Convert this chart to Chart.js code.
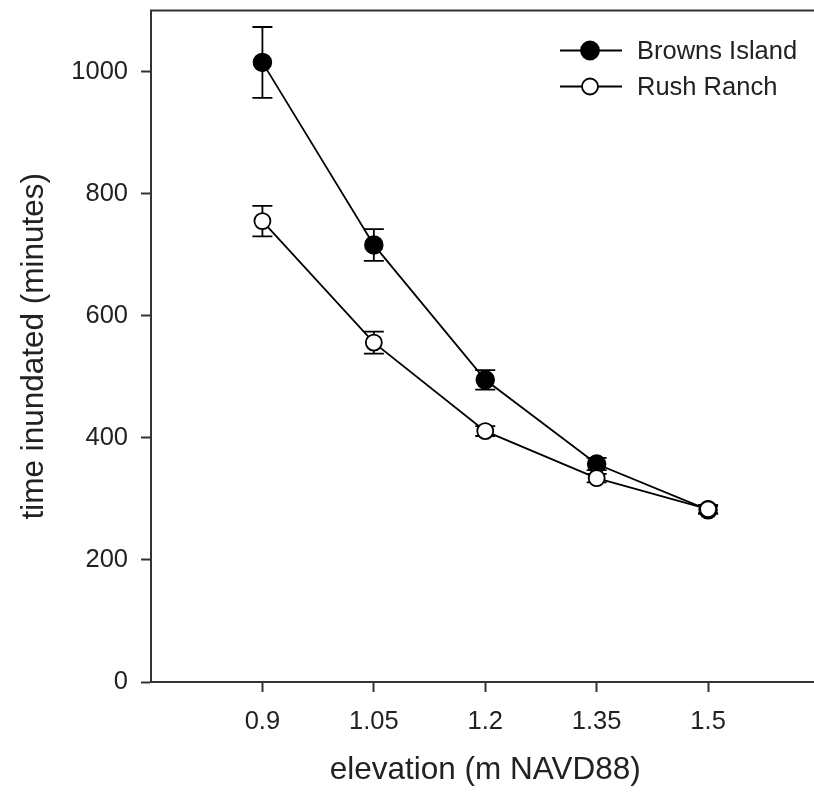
<!DOCTYPE html>
<html>
<head>
<meta charset="utf-8">
<script src="https://cdn.jsdelivr.net/npm/chart.js@4"></script>
<style>
    html, body { margin: 0; padding: 0; background: #fff; overflow: hidden; }
    #wrap { width: 830px; height: 800px; }
</style>
</head>
<body>
<div id="wrap"><canvas id="chart" width="830" height="800"></canvas></div>
<script>
// data
const elevations = [0.9, 1.05, 1.2, 1.35, 1.5];
const brownsIsland = [1015, 716, 495, 357, 282];
const brownsErr = [58, 26, 16, 10, 6];
const rushRanch = [755, 556, 411, 334, 283];
const rushErr = [25, 18, 8, 7, 7];

const xTicks = [0.9, 1.05, 1.2, 1.35, 1.5];
const xTickLabels = ["0.9", "1.05", "1.2", "1.35", "1.5"];
const yTicks = [0, 200, 400, 600, 800, 1000];

const FONT = "'Liberation Sans', Arial, sans-serif";
const INK = "#222";
const AXIS = "#333";

Chart.defaults.font.family = FONT;
Chart.defaults.color = INK;

function toPoints(xs, ys, errs) {
    return xs.map((x, i) => ({ x, y: ys[i], err: errs[i] }));
}

// error bars under the markers
const errorBars = {
    id: "errorBars",
    beforeDatasetsDraw(chart) {
        const { ctx, scales } = chart;
        ctx.save();
        ctx.strokeStyle = "#000";
        ctx.lineWidth = 1.8;
        chart.data.datasets.forEach((ds) => {
            ds.data.forEach((p) => {
                const x = scales.x.getPixelForValue(p.x);
                const yTop = scales.y.getPixelForValue(p.y + p.err);
                const yBot = scales.y.getPixelForValue(p.y - p.err);
                ctx.beginPath();
                ctx.moveTo(x, yTop);
                ctx.lineTo(x, yBot);
                ctx.moveTo(x - 10, yTop);
                ctx.lineTo(x + 10, yTop);
                ctx.moveTo(x - 10, yBot);
                ctx.lineTo(x + 10, yBot);
                ctx.stroke();
            });
        });
        ctx.restore();
    },
};

// top edge of the frame + legend inside the plot
const frameAndLegend = {
    id: "frameAndLegend",
    afterDraw(chart) {
        const { ctx, chartArea } = chart;
        ctx.save();
        ctx.strokeStyle = AXIS;
        ctx.lineWidth = 2;
        ctx.beginPath();
        ctx.moveTo(chartArea.left - 1, chartArea.top);
        ctx.lineTo(chartArea.right, chartArea.top);
        ctx.stroke();

        const items = chart.data.datasets;
        const lineX0 = chartArea.left + 409;
        const lineX1 = chartArea.left + 471;
        const markX = chartArea.left + 439;
        const textX = chartArea.left + 486;
        items.forEach((ds, i) => {
            const y = chartArea.top + 40 + i * 36;
            ctx.strokeStyle = "#000";
            ctx.lineWidth = 1.8;
            ctx.beginPath();
            ctx.moveTo(lineX0, y);
            ctx.lineTo(lineX1, y);
            ctx.stroke();
            ctx.beginPath();
            ctx.arc(markX, y, ds.pointRadius, 0, Math.PI * 2);
            ctx.fillStyle = ds.pointBackgroundColor;
            ctx.fill();
            ctx.stroke();
            ctx.fillStyle = INK;
            ctx.font = "25.5px " + FONT;
            ctx.textBaseline = "middle";
            ctx.textAlign = "left";
            ctx.fillText(ds.label, textX, y + 1);
        });
        ctx.restore();
    },
};

new Chart(document.getElementById("chart"), {
    type: "line",
    data: {
        datasets: [
            {
                label: "Browns Island",
                data: toPoints(elevations, brownsIsland, brownsErr),
                borderColor: "#000",
                borderWidth: 1.8,
                pointRadius: 9,
                pointBackgroundColor: "#000",
                pointBorderColor: "#000",
                pointBorderWidth: 1.5,
                order: 2,
            },
            {
                label: "Rush Ranch",
                data: toPoints(elevations, rushRanch, rushErr),
                borderColor: "#000",
                borderWidth: 1.8,
                pointRadius: 8,
                pointBackgroundColor: "#fff",
                pointBorderColor: "#000",
                pointBorderWidth: 1.8,
                order: 1,
            },
        ],
    },
    options: {
        responsive: false,
        animation: false,
        layout: { padding: { top: 9, right: 7, left: 0, bottom: 0 } },
        plugins: {
            legend: { display: false },
            tooltip: { enabled: false },
        },
        scales: {
            x: {
                type: "linear",
                min: 0.75,
                max: 1.65,
                afterBuildTicks: (scale) => {
                    scale.ticks = xTicks.map((v) => ({ value: v }));
                },
                afterFit: (scale) => {
                    scale.height = 118;
                    scale.paddingLeft = 0;
                    scale.paddingRight = 0;
                },
                ticks: {
                    font: { size: 25.5 },
                    color: INK,
                    padding: 15,
                    maxRotation: 0,
                    callback: (value) => xTickLabels[xTicks.indexOf(value)] ?? "",
                },
                grid: {
                    drawOnChartArea: false,
                    drawTicks: true,
                    tickLength: 10,
                    tickColor: AXIS,
                    tickWidth: 2,
                },
                border: { display: true, color: AXIS, width: 2 },
                title: {
                    display: true,
                    text: "elevation (m NAVD88)",
                    font: { size: 31.5 },
                    color: INK,
                    padding: { top: 0, bottom: 11 },
                },
            },
            y: {
                min: 0,
                max: 1100,
                afterBuildTicks: (scale) => {
                    scale.ticks = yTicks.map((v) => ({ value: v }));
                },
                afterFit: (scale) => {
                    scale.width = 151;
                    scale.paddingTop = 0;
                    scale.paddingBottom = 0;
                },
                ticks: {
                    font: { size: 25.5 },
                    color: INK,
                    padding: 13,
                    callback: (value) => String(value),
                },
                grid: {
                    drawOnChartArea: false,
                    drawTicks: true,
                    tickLength: 10,
                    tickColor: AXIS,
                    tickWidth: 2,
                },
                border: { display: true, color: AXIS, width: 2 },
                title: {
                    display: true,
                    text: "time inundated (minutes)",
                    font: { size: 31.5 },
                    color: INK,
                    padding: { top: 15, bottom: 0 },
                },
            },
        },
    },
    plugins: [errorBars, frameAndLegend],
});
</script>
</body>
</html>
